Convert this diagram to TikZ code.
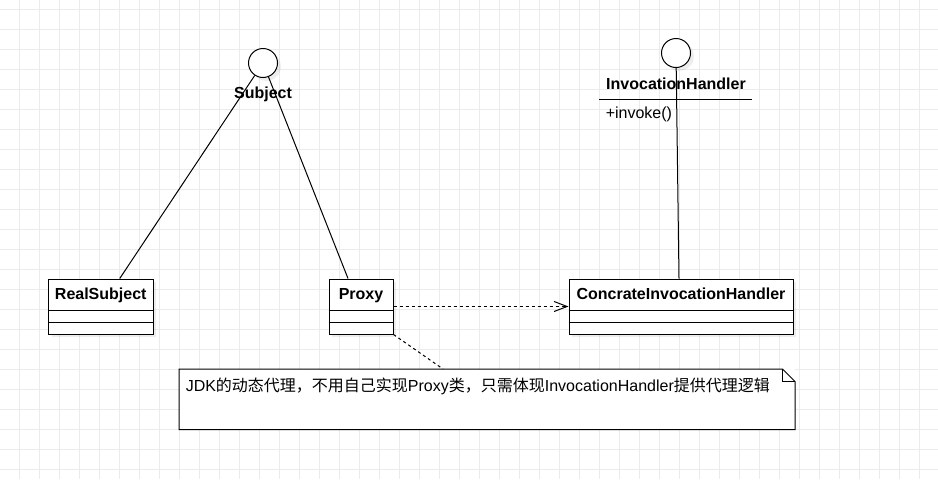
\documentclass[tikz,border=0pt]{standalone}
\usepackage{fontspec}
\setmainfont{Liberation Sans}
\newfontfamily\cjk{Noto Sans CJK SC}
\usepackage{xcolor}
\usepackage{tikz}
\usetikzlibrary{positioning,calc}
\usetikzlibrary{arrows.meta,shapes,shadows}
\definecolor{gridgray}{HTML}{EBEBEB}
\tikzstyle{gridline} = [draw=gridgray,line width=0.75pt]
\tikzstyle{cls} = [rectangle,draw,fill=white,line width=0.75pt,minimum height=41.25pt,inner sep=0pt,
  drop shadow={shadow xshift=2.5pt,shadow yshift=-2.5pt,fill=black,opacity=0.07}]
\tikzstyle{lolli} = [circle,draw,fill=white,line width=0.75pt,minimum size=21.75pt,inner sep=0pt,
  drop shadow={shadow xshift=2.5pt,shadow yshift=-2.5pt,fill=black,opacity=0.07}]
\tikzstyle{line} = [line width=0.75pt]
\tikzstyle{dep} = [line width=0.75pt,dash pattern=on 2.25pt off 2.25pt,-{Straight Barb[length=9.75pt,width=7.5pt]}]
\tikzstyle{noteline} = [line width=0.75pt,dash pattern=on 2.25pt off 2.25pt]
\tikzstyle{lbl} = [font=\fontsize{12pt}{14pt}\selectfont\bfseries,inner sep=0pt,anchor=base]
\tikzstyle{txt} = [font=\fontsize{12pt}{14pt}\selectfont,inner sep=0pt,anchor=base west]

\begin{document}
\begin{tikzpicture}[x=0.75pt,y=-0.75pt]
        \useasboundingbox (0,0) rectangle (938,479);
        \fill[white] (0,0) rectangle (938,479);
        % grid
        \foreach \x in {19.5,39.5,...,938} \draw[gridline] (\x,0) -- (\x,479);
        \foreach \y in {9.5,29.5,...,479} \draw[gridline] (0,\y) -- (938,\y);

        % interface Subject
        \node[lolli] (subj) at (263,63) {};
        \node[lbl] (subjname) at (263,98.3) {Subject};

        % classes
        \node[cls,minimum width=78.4pt] (rs) at (100.75,306.5) {};
        \node[lbl] (rsname) at ($(rs.north)+(0,21)$) {RealSubject};
        \draw[line] ($(rs.north west)+(0,32)$) -- ($(rs.north east)+(0,32)$);
        \draw[line] ($(rs.north west)+(0,44)$) -- ($(rs.north east)+(0,44)$);

        \node[cls,minimum width=48pt] (px) at (361,306.5) {};
        \node[lbl] (pxname) at ($(px.north)+(0,21)$) {Proxy};
        \draw[line] ($(px.north west)+(0,32)$) -- ($(px.north east)+(0,32)$);
        \draw[line] ($(px.north west)+(0,44)$) -- ($(px.north east)+(0,44)$);

        \node[cls,minimum width=168pt] (cih) at (681,306.5) {};
        \node[lbl] (cihname) at ($(cih.north)+(0,21)$) {ConcrateInvocationHandler};
        \draw[line] ($(cih.north west)+(0,32)$) -- ($(cih.north east)+(0,32)$);
        \draw[line] ($(cih.north west)+(0,44)$) -- ($(cih.north east)+(0,44)$);

        % interface InvocationHandler
        \node[lolli] (ih) at (676,53) {};
        \node[lbl] (ihname) at (676,89) {InvocationHandler};
        \draw[line] (599,99) -- (752,99);
        \node[txt] (ihop) at (605.5,118.3) {+invoke()};

        % realizations
        \draw[line] (subj) -- ($(rs.north)+(19,0)$);
        \draw[line] (subj) -- ($(px.north)+(-13,0)$);
        \draw[line] (ih) -- ($(cih.north)+(-2,0)$);

        % dependency
        \draw[dep] (px) -- (cih);

        % note
        \node[rectangle,fill=white,minimum width=461.6pt,minimum height=45pt,inner sep=0pt,anchor=north west] (note) at (179,369) {};
        \draw[line] (note.north west) -- ($(note.north east)+(-12.5,0)$) -- ($(note.north east)+(0,12.5)$)
            -- (note.south east) -- (note.south west) -- cycle;
        \draw[line] ($(note.north east)+(-12.5,0)$) -- ($(note.north east)+(-12.5,12.5)$) -- ($(note.north east)+(0,12.5)$);
        \node[txt] (notetxt) at (185.5,391) {JDK{\cjk 的动态代理，不用自己实现}Proxy{\cjk 类，只需体现}InvocationHandler{\cjk 提供代理逻辑}};
        \draw[noteline] (px.south east) -- ($(note.north west)+(264,0)$);
    \end{tikzpicture}
\end{document}
